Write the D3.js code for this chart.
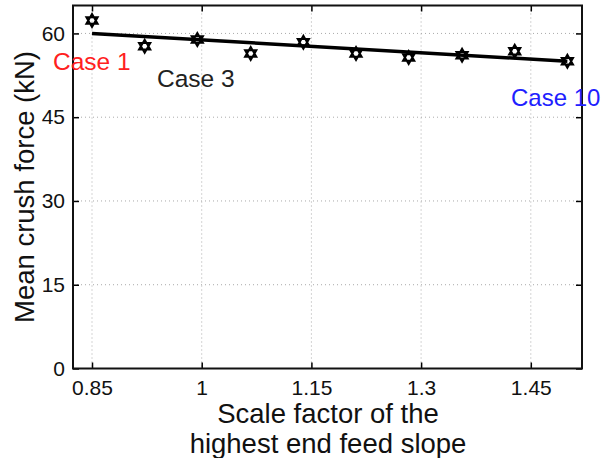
<!DOCTYPE html>
<html><head><meta charset="utf-8">
<script src="https://cdn.jsdelivr.net/npm/d3@7"></script>
<style>body{margin:0;background:#fff;}svg{display:block;font-family:"Liberation Sans",Arial,Helvetica,sans-serif;}</style>
</head><body>
<svg id="c" width="604" height="458"></svg>
<script>
const scaleFactors = [0.85, 0.922, 0.994, 1.067, 1.139, 1.211, 1.283, 1.356, 1.428, 1.5];
const crushForce = [62.3, 57.7, 58.9, 56.4, 58.4, 56.4, 55.7, 56.1, 56.8, 55.0];
const fitX = [0.85, 1.5];
const fitY = [60.0, 55.0];
const xTicks = [0.85, 1, 1.15, 1.3, 1.45];
const yTicks = [0, 15, 30, 45, 60];
const caseLabels = [
  {text: "Case 1", color: "#ff2020"},
  {text: "Case 3", color: "#222"},
  {text: "Case 10", color: "#2020ff"}
];

const svg = d3.select("#c");
const L = 73, R = 582, T = 5.5, B = 368.5;
const x = d3.scaleLinear().domain([0.824, 1.52]).range([L, R]);
const y = d3.scaleLinear().domain([0, 65]).range([B, T]);

// grid
const g = svg.append("g");
g.selectAll(".gx").data(xTicks).join("line")
  .attr("x1", d => x(d)).attr("x2", d => x(d)).attr("y1", T).attr("y2", B)
  .attr("stroke", "#aaa").attr("stroke-width", 1).attr("stroke-dasharray", "1,3");
g.selectAll(".gy").data(yTicks).join("line")
  .attr("y1", d => y(d)).attr("y2", d => y(d)).attr("x1", L).attr("x2", R)
  .attr("stroke", "#aaa").attr("stroke-width", 1).attr("stroke-dasharray", "1,3");

// axes with inward ticks
const xAxisB = d3.axisBottom(x).tickValues(xTicks).tickSize(-6).tickFormat(d => d3.format("")(d));
const xAxisT = d3.axisTop(x).tickValues(xTicks).tickSize(-6).tickFormat("");
const yAxisL = d3.axisLeft(y).tickValues(yTicks).tickSize(-6);
const yAxisR = d3.axisRight(y).tickValues(yTicks).tickSize(-6).tickFormat("");

function style(sel){
  sel.select(".domain").remove();
  sel.selectAll(".tick line").attr("stroke", "#000").attr("stroke-width", 1.5);
  sel.selectAll("text").attr("fill", "#111").style("font-size", "21px").style("font-family", "'Liberation Sans',Arial,sans-serif");
}
svg.append("g").attr("transform", `translate(0,${B})`).call(xAxisB).call(style)
  .selectAll("text").attr("dy", null).attr("y", 26);
svg.append("g").attr("transform", `translate(0,${T})`).call(xAxisT).call(style);
svg.append("g").attr("transform", `translate(${L},0)`).call(yAxisL).call(style)
  .selectAll("text").attr("x", -8);
svg.append("g").attr("transform", `translate(${R},0)`).call(yAxisR).call(style);

// markers (hexagram, unfilled)
const r = 6.5;
function hexagram(cx, cy){
  const tri = (a0) => d3.range(3).map(i => {
    const a = a0 + i * 2 * Math.PI / 3;
    return [cx + r * Math.cos(a), cy + r * Math.sin(a)];
  });
  const t1 = tri(-Math.PI / 2), t2 = tri(Math.PI / 2);
  return "M" + t1.join("L") + "Z M" + t2.join("L") + "Z";
}
svg.append("g").selectAll("path").data(scaleFactors).join("path")
  .attr("d", (d, i) => hexagram(x(d), y(crushForce[i])))
  .attr("fill", "none").attr("stroke", "#000").attr("stroke-width", 2).attr("stroke-linejoin", "miter");

// fit line
svg.append("path").datum(fitX.map((d, i) => [d, fitY[i]]))
  .attr("d", d3.line().x(d => x(d[0])).y(d => y(d[1])))
  .attr("stroke", "#000").attr("stroke-width", 3.5).attr("fill", "none");

// frame
svg.append("rect").attr("x", L).attr("y", T).attr("width", R - L).attr("height", B - T)
  .attr("fill", "none").attr("stroke", "#111").attr("stroke-width", 2);

// case labels
const casePos = [[53, 70], [157, 87], [511, 106]];
svg.append("g").selectAll("text").data(caseLabels).join("text")
  .attr("x", (d, i) => casePos[i][0]).attr("y", (d, i) => casePos[i][1])
  .attr("fill", d => d.color).style("font-size", (d, i) => i === 2 ? "24px" : "24.5px").text(d => d.text);

// axis titles
svg.append("text").attr("x", 328).attr("y", 423).attr("text-anchor", "middle")
  .style("font-size", "27.5px").attr("fill", "#111").text("Scale factor of the");
svg.append("text").attr("x", 328).attr("y", 453).attr("text-anchor", "middle")
  .style("font-size", "27.5px").attr("fill", "#111").text("highest end feed slope");
svg.append("text").attr("transform", `translate(34,${187}) rotate(-90)`).attr("text-anchor", "middle")
  .style("font-size", "27.5px").attr("fill", "#111").text("Mean crush force (kN)");
</script>
</body></html>
